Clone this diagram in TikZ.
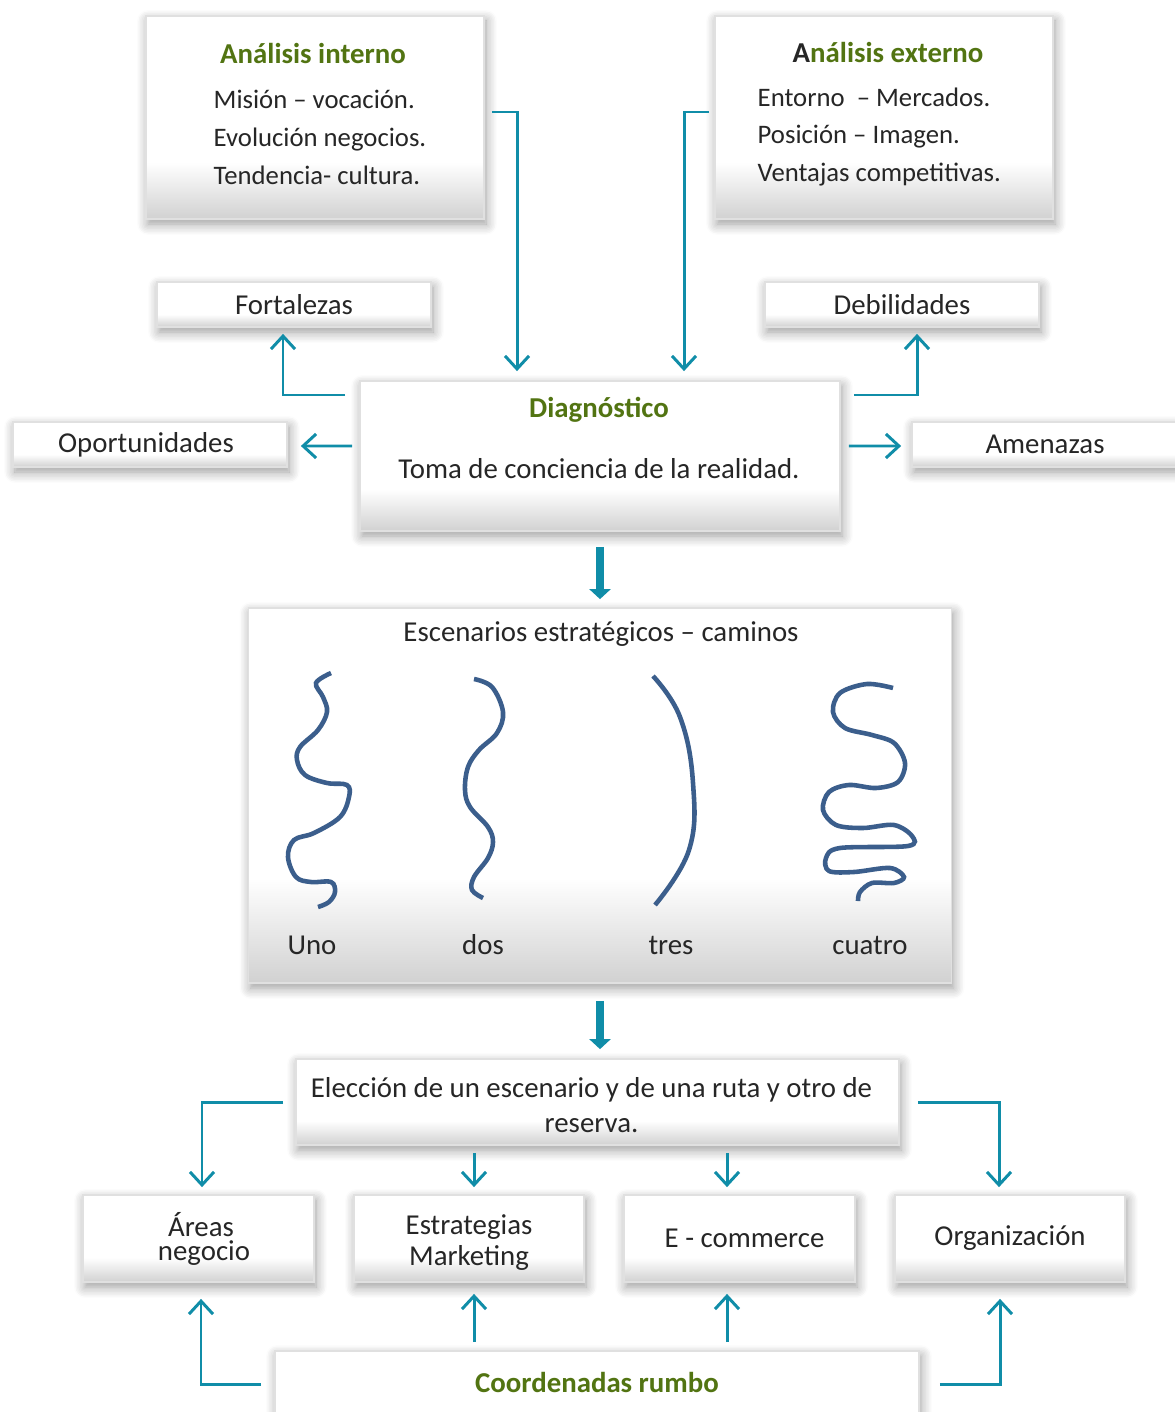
\documentclass[tikz,border=0pt]{standalone}
\usepackage{fontspec}
\setmainfont{Carlito}
\usetikzlibrary{arrows.meta,shadows.blur}

\definecolor{linkteal}{RGB}{16,141,168}
\definecolor{pathblue}{RGB}{59,94,140}
\definecolor{titlegreen}{RGB}{82,116,18}
\definecolor{txtgray}{RGB}{38,38,38}
\pgfdeclareverticalshading{boxshade}{100bp}{color(0bp)=(black!18); color(25bp)=(black!18); color(39bp)=(white); color(100bp)=(white)}

\tikzset{
  panel/.style={draw=black!12, line width=0.5pt, shading=boxshade, inner sep=0pt,
    blur shadow={shadow blur steps=8, shadow xshift=0.02cm, shadow yshift=-0.05cm,
      shadow blur radius=0.11cm, shadow opacity=40},
    text=txtgray, align=center},
  label/.style={text=txtgray, inner sep=0pt},
  listtext/.style={text=txtgray, inner sep=0pt, anchor=west, align=left, font=\fontsize{7.6}{10.8}\selectfont},
  heading/.style={font=\fontsize{8.2}{10}\selectfont\bfseries, text=titlegreen, inner sep=0pt},
  link/.style={draw=linkteal, line width=0.85pt, -{Straight Barb[length=0.13cm,width=0.24cm]}},
  bigarrow/.style={draw=linkteal, line width=2.1pt, -{Triangle[length=0.1cm,width=0.21cm]}},
  road/.style={draw=pathblue, line width=1.3pt, line cap=butt}
}

\begin{document}
\begin{tikzpicture}[font=\fontsize{8.2}{10.8}\selectfont]
    \useasboundingbox (0,0) rectangle (11.74,-14.12);

    \node [panel, minimum width=3.38cm, minimum height=2.03cm] (intern) at (3.15,-1.175) {};
    \node [heading] (interntitle) at (3.13,-0.54) {Análisis interno};
    \node [listtext] (internlist) at (2.13,-1.37) {Misión – vocación.\\Evolución negocios.\\Tendencia- cultura.};

    \node [panel, minimum width=3.38cm, minimum height=2.03cm] (extern) at (8.84,-1.175) {};
    \node [heading] (externtitle) at (8.88,-0.53) {\textcolor{txtgray}{A}nálisis externo};
    \node [listtext] (externlist) at (7.57,-1.37) {Entorno \ – Mercados.\\Posición – Imagen.\\Ventajas competitivas.};

    \node [panel, minimum width=2.74cm, minimum height=0.45cm] (fort) at (2.94,-3.045) {Fortalezas};
    \node [panel, minimum width=2.74cm, minimum height=0.45cm] (debil) at (9.02,-3.045) {Debilidades};
    \node [panel, minimum width=2.74cm, minimum height=0.45cm] (oport) at (1.50,-4.445) {\hspace*{-0.08cm}Oportunidades};
    \node [panel, minimum width=2.74cm, minimum height=0.45cm] (amen) at (10.49,-4.445) {\hspace*{-0.08cm}Amenazas};

    \node [panel, minimum width=4.80cm, minimum height=1.50cm] (diag) at (6.00,-4.56) {};
    \node [heading] (diagtitle) at (5.99,-4.10) {Diagnóstico};
    \node [label] (diagtext) at (5.99,-4.69) {Toma de conciencia de la realidad.};

    \draw [link] ([xshift=0.07cm,yshift=0.055cm]intern.east) -| ([xshift=-0.83cm,yshift=0.09cm]diag.north);
    \draw [link] ([xshift=-0.05cm,yshift=0.055cm]extern.west) -| ([xshift=0.84cm,yshift=0.09cm]diag.north);
    \draw [link] ([xshift=-0.14cm,yshift=0.61cm]diag.west) -| ([xshift=-0.11cm,yshift=-0.06cm]fort.south);
    \draw [link] ([xshift=0.13cm,yshift=0.61cm]diag.east) -| ([xshift=0.15cm,yshift=-0.06cm]debil.south);
    \draw [link] ([xshift=-0.07cm,yshift=0.10cm]diag.west) -- ([xshift=0.13cm,yshift=-0.015cm]oport.east);
    \draw [link] ([xshift=0.08cm,yshift=0.10cm]diag.east) -- ([xshift=-0.10cm,yshift=-0.015cm]amen.west);

    \node [panel, minimum width=7.03cm, minimum height=3.75cm] (escen) at (6.00,-7.955) {};
    \node [label] (escentitle) at (6.01,-6.34) {Escenarios estratégicos – caminos};
    \draw [bigarrow] ([yshift=-0.15cm]diag.south) -- ([yshift=0.08cm]escen.north);

    \draw [road] plot [smooth, tension=0.6] coordinates {(3.31,-6.73) (3.16,-6.83) (3.23,-6.97) (3.27,-7.12) (3.18,-7.30) (3.00,-7.47) (2.97,-7.60) (3.05,-7.75) (3.27,-7.83) (3.47,-7.85) (3.49,-7.97) (3.40,-8.17) (3.14,-8.33) (2.94,-8.40) (2.88,-8.57) (2.96,-8.77) (3.11,-8.82) (3.31,-8.82) (3.35,-8.92) (3.29,-9.02) (3.18,-9.07)};
    \draw [road] plot [smooth, tension=0.6] coordinates {(4.74,-6.79) (4.92,-6.87) (5.03,-7.12) (4.97,-7.33) (4.79,-7.50) (4.68,-7.67) (4.65,-7.90) (4.70,-8.07) (4.88,-8.27) (4.93,-8.42) (4.88,-8.58) (4.74,-8.77) (4.72,-8.90) (4.83,-8.98)};
    \draw [road] plot [smooth, tension=0.7] coordinates {(6.53,-6.76) (6.80,-7.17) (6.93,-7.83) (6.89,-8.50) (6.55,-9.05)};
    \draw [road] plot [smooth, tension=0.55] coordinates {(8.93,-6.88) (8.67,-6.84) (8.40,-6.93) (8.33,-7.12) (8.45,-7.28) (8.72,-7.35) (8.94,-7.43) (9.05,-7.63) (8.98,-7.82) (8.76,-7.88) (8.49,-7.85) (8.29,-7.92) (8.23,-8.10) (8.36,-8.25) (8.63,-8.28) (8.94,-8.25) (9.12,-8.36) (9.08,-8.46) (8.40,-8.48) (8.26,-8.58) (8.29,-8.71) (8.54,-8.72) (8.90,-8.68) (9.04,-8.77) (8.94,-8.83) (8.72,-8.83) (8.60,-8.92) (8.58,-9.01)};

    \node [label] (uno) at (3.12,-9.45) {Uno};
    \node [label] (dos) at (4.83,-9.45) {dos};
    \node [label] (tres) at (6.71,-9.45) {tres};
    \node [label] (cuatro) at (8.70,-9.45) {cuatro};

    \node [panel, minimum width=6.03cm, minimum height=0.86cm] (elec) at (5.975,-11.02) {};
    \node [label, align=center, font=\fontsize{8.2}{9.9}\selectfont] (electext) at (5.915,-11.05) {Elección de un escenario y de una ruta y otro de\\reserva.};
    \draw [bigarrow] ([yshift=-0.17cm]escen.south) -- ([yshift=0.09cm]escen.south |- elec.north);

    \node [panel, minimum width=2.31cm, minimum height=0.87cm, font=\fontsize{8.2}{6.8}\selectfont] (areas) at (1.985,-12.385) {\hspace*{0.05cm}Áreas\\\hspace*{0.11cm}negocio};
    \node [panel, minimum width=2.30cm, minimum height=0.87cm] (estr) at (4.69,-12.385) {};
    \node [label, align=center, font=\fontsize{8.2}{8.8}\selectfont] (estrtext) at (4.69,-12.43) {Estrategias\\Marketing};
    \node [panel, minimum width=2.31cm, minimum height=0.87cm] (ecom) at (7.395,-12.385) {\hspace*{0.1cm}E - commerce};
    \node [panel, minimum width=2.30cm, minimum height=0.87cm] (organ) at (10.10,-12.385) {Organización};

    \draw [link] ([xshift=-0.12cm]elec.west) -| ([xshift=0.035cm,yshift=0.07cm]areas.north);
    \draw [link] ([xshift=0.05cm,yshift=-0.07cm]estr.north |- elec.south) -- ([xshift=0.05cm,yshift=0.07cm]estr.north);
    \draw [link] ([xshift=-0.125cm,yshift=-0.07cm]ecom.north |- elec.south) -- ([xshift=-0.125cm,yshift=0.07cm]ecom.north);
    \draw [link] ([xshift=0.18cm]elec.east) -| ([xshift=-0.11cm,yshift=0.07cm]organ.north);

    \node [panel, minimum width=6.44cm, minimum height=0.86cm] (coord) at (5.97,-13.94) {};
    \node [heading] (coordtitle) at (5.97,-13.82) {Coordenadas rumbo};

    \draw [link] ([xshift=-0.13cm,yshift=0.10cm]coord.west) -| ([xshift=0.025cm,yshift=-0.16cm]areas.south);
    \draw [link] ([xshift=0.05cm,yshift=0.08cm]estr.south |- coord.north) -- ([xshift=0.05cm,yshift=-0.11cm]estr.south);
    \draw [link] ([xshift=-0.125cm,yshift=0.08cm]ecom.south |- coord.north) -- ([xshift=-0.125cm,yshift=-0.11cm]ecom.south);
    \draw [link] ([xshift=0.20cm,yshift=0.10cm]coord.east) -| ([xshift=-0.10cm,yshift=-0.16cm]organ.south);
  \end{tikzpicture}
\end{document}
